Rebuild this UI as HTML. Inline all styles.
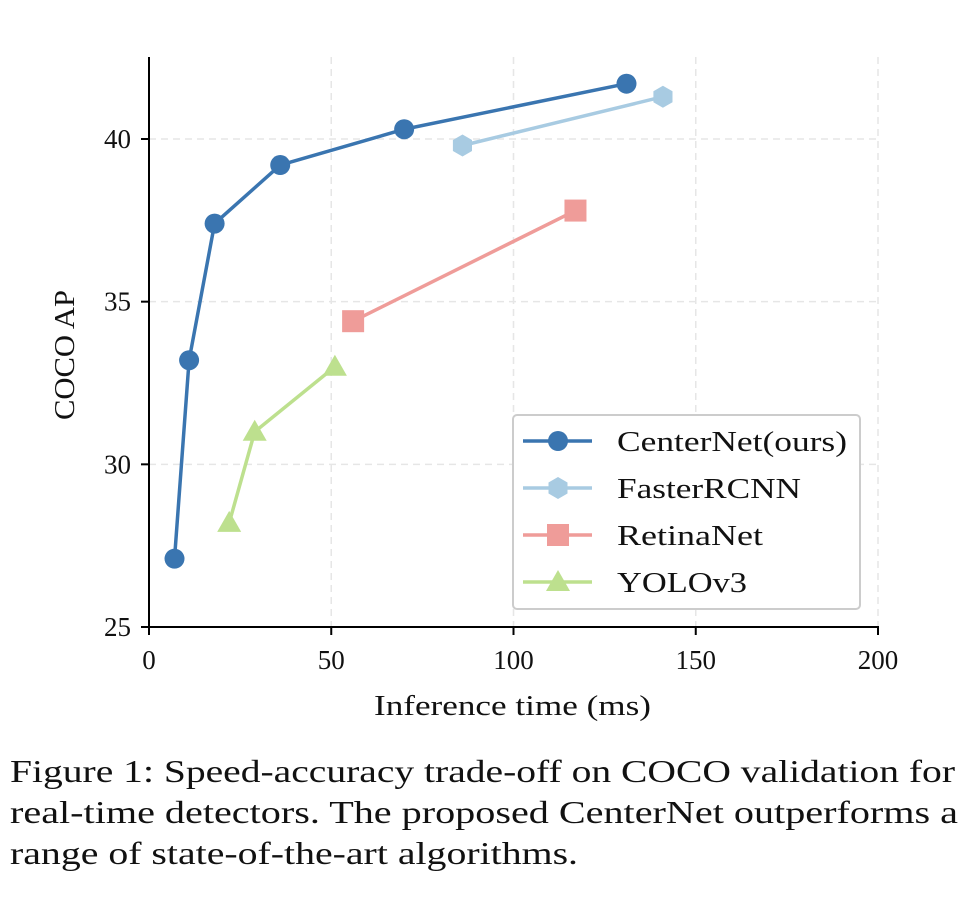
<!DOCTYPE html>
<html><head><meta charset="utf-8"><style>
body{margin:0;background:#fff;width:972px;height:900px;overflow:hidden}
svg text{font-family:"Liberation Serif",serif;fill:#111}
</style></head><body>
<svg id="chart" width="972" height="900" style="position:absolute;left:0;top:0"></svg>
<script>
const seriesNames=["CenterNet(ours)","FasterRCNN","RetinaNet","YOLOv3"];
const centerX=[7,11,18,36,70,131];
const centerY=[27.1,33.2,37.4,39.2,40.3,41.7];
const fasterX=[86,141];
const fasterY=[39.8,41.3];
const retinaX=[56,117];
const retinaY=[34.4,37.8];
const yoloX=[22,29,51];
const yoloY=[28.2,31.0,33.0];
const xTicks=[0,50,100,150,200];
const yTicks=[25,30,35,40];
const colors=["#3a75b0","#a8cbe2","#ef9c99","#bde08e"];
const markers=["circle","hex","square","tri"];
const X0=149,X1=878,Y0=627,Y1=139;
const sx=v=>X0+(v-0)*(X1-X0)/200;
const sy=v=>Y0-(v-25)*(Y0-Y1)/15;
const svg=document.getElementById('chart');
const NS="http://www.w3.org/2000/svg";
function mk(t,a,p){const e=document.createElementNS(NS,t);for(const k in a)e.setAttribute(k,a[k]);(p||svg).appendChild(e);return e;}
xTicks.slice(1).forEach(t=>{const l=mk('line',{x1:sx(t),x2:sx(t),y1:57,y2:Y0,stroke:'#e6e6e6','stroke-width':1.5,'stroke-dasharray':'7,5'});

});
yTicks.slice(1).forEach(t=>{const l=mk('line',{x1:X0,x2:X1,y1:sy(t),y2:sy(t),stroke:'#e6e6e6','stroke-width':1.5,'stroke-dasharray':'7,5'});

});
const xa=mk('line',{x1:X0,x2:X1+1,y1:Y0,y2:Y0,stroke:'#000','stroke-width':2});


const ya=mk('line',{x1:X0,x2:X0,y1:57,y2:Y0+1,stroke:'#000','stroke-width':2});


xTicks.forEach(t=>{mk('line',{x1:sx(t),x2:sx(t),y1:Y0,y2:Y0+8,stroke:'#000','stroke-width':2});
const tx=mk('text',{x:sx(t),y:Y0+42,'text-anchor':'middle','font-size':27});tx.textContent=t;

});
yTicks.forEach(t=>{mk('line',{x1:X0-8,x2:X0,y1:sy(t),y2:sy(t),stroke:'#000','stroke-width':2});
const tx=mk('text',{x:X0-18,y:sy(t)+9,'text-anchor':'end','font-size':27});tx.textContent=t;

});
const xt=mk('text',{x:374,y:715,'font-size':28,textLength:277,lengthAdjust:'spacingAndGlyphs'});xt.textContent='Inference time (ms)';


const yt=mk('text',{x:0,y:0,'font-size':28,textLength:130,lengthAdjust:'spacingAndGlyphs',transform:'translate(74,420) rotate(-90)'});yt.textContent='COCO AP';


function marker(kind,x,y,c,g){
 if(kind==='circle')return mk('circle',{cx:x,cy:y,r:10,fill:c},g);
 if(kind==='square')return mk('rect',{x:x-11,y:y-11,width:22,height:22,fill:c},g);
 if(kind==='hex'){let p=[];for(let i=0;i<6;i++){const a=Math.PI/6+i*Math.PI/3;p.push((x+11*Math.cos(a)).toFixed(1)+','+(y+11*Math.sin(a)).toFixed(1));}return mk('polygon',{points:p.join(' '),fill:c},g);}
 return mk('polygon',{points:`${x},${y-12} ${x+12},${y+9} ${x-12},${y+9}`,fill:c},g);
}
const data=[[centerX,centerY],[fasterX,fasterY],[retinaX,retinaY],[yoloX,yoloY]];
data.forEach((d,i)=>{
 const g=mk('g',{});
 
 
 mk('polyline',{points:d[0].map((x,j)=>sx(x)+','+sy(d[1][j])).join(' '),fill:'none',stroke:colors[i],'stroke-width':3.5},g);
 d[0].forEach((x,j)=>{const m=marker(markers[i],sx(x),sy(d[1][j]),colors[i],g);
 
 });
});
const lg=mk('g',{});


mk('rect',{x:513,y:415,width:347,height:194,rx:4,fill:'#fff',stroke:'#cccccc','stroke-width':2},lg);
const legW=[230,184,146,130];
seriesNames.forEach((n,i)=>{
 const y=441+i*47;
 const e=mk('g',{},lg);
 
 
 mk('line',{x1:523,x2:592,y1:y,y2:y,stroke:colors[i],'stroke-width':3.5},e);
 marker(markers[i],558,y,colors[i],e);
 const t=mk('text',{x:617,y:y+10,'font-size':28,textLength:legW[i],lengthAdjust:'spacingAndGlyphs'},e);t.textContent=n;
});
const capLines=["Figure 1: Speed-accuracy trade-off on COCO validation for","real-time detectors. The proposed CenterNet outperforms a","range of state-of-the-art algorithms."];
const capW=[945,948,568];
const cg=mk('g',{});


capLines.forEach((s,i)=>{const t=mk('text',{x:10,y:782+i*41,'font-size':32,textLength:capW[i],lengthAdjust:'spacingAndGlyphs'},cg);t.textContent=s;});
</script>
</body></html>
